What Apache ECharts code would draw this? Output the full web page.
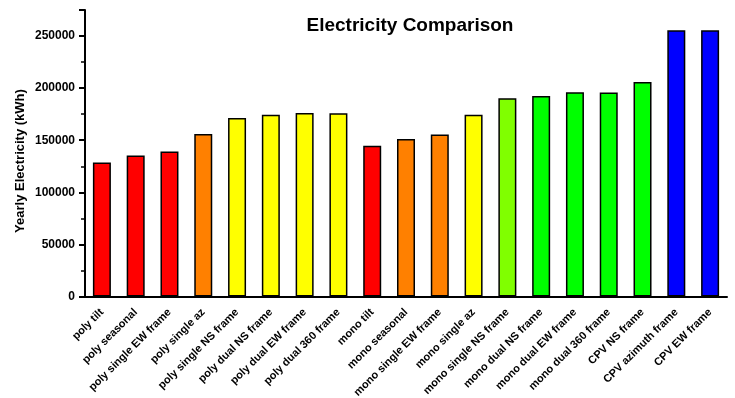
<!DOCTYPE html>
<html>
<head>
<meta charset="utf-8">
<script src="https://cdn.jsdelivr.net/npm/echarts@6/dist/echarts.min.js"></script>
<style>html,body{margin:0;padding:0;background:#fff;}#c{width:735px;height:398px;}</style>
</head>
<body>
<div id="c"></div>
<script>
const categories = ["poly tilt","poly seasonal","poly single EW frame","poly single az","poly single NS frame","poly dual NS frame","poly dual EW frame","poly dual 360 frame","mono tilt","mono seasonal","mono single EW frame","mono single az","mono single NS frame","mono dual NS frame","mono dual EW frame","mono dual 360 frame","CPV NS frame","CPV azimuth frame","CPV EW frame"];
const values = [128600,135400,139200,156000,171300,174500,176100,176000,144700,151100,155600,174500,190200,192500,196000,195700,205900,255600,255600];
const barColors = ["#FF0000","#FF0000","#FF0000","#FF8000","#FFFF00","#FFFF00","#FFFF00","#FFFF00","#FF0000","#FF8000","#FF8000","#FFFF00","#80FF00","#00FF00","#00FF00","#00FF00","#00FF00","#0000FF","#0000FF"];
const yTicks = [0,50000,100000,150000,200000,250000];

const FONT = 'Liberation Sans, Arial, sans-serif';
const chart = echarts.init(document.getElementById('c'));
chart.setOption({
  animation: false,
  backgroundColor: '#fff',
  title: {
    text: 'Electricity Comparison',
    left: 405, top: 11, textAlign: 'center',
    textStyle: {fontFamily: FONT, fontWeight: 'bold', fontSize: 19, color: '#000'}
  },
  graphic: [{
    type: 'text', x: 20, y: 161, rotation: Math.PI/2,
    style: {text: 'Yearly Electricity (kWh)', fontFamily: FONT, fontWeight: 'bold', fontSize: 13,
      fill: '#000', textAlign: 'center', textVerticalAlign: 'middle'}
  }],
  grid: {left: 85, right: 8, top: 10, bottom: 101.5, containLabel: false, outerBoundsMode: 'none'},
  xAxis: [{
    type: 'category', data: categories, position: 'bottom',
    axisLine: {lineStyle: {color: '#000', width: 2}},
    axisTick: {alignWithLabel: true, length: 5, lineStyle: {color: '#000', width: 2}},
    axisLabel: {rotate: 45, interval: 0, margin: 14, fontFamily: FONT, fontWeight: 'bold', fontSize: 11, color: '#000'}
  }, {
    type: 'category', data: categories, position: 'bottom', offset: 0,
    axisLine: {show: false},
    axisTick: {length: 3, lineStyle: {color: '#000', width: 2}},
    axisLabel: {show: false}
  }],
  yAxis: {
    type: 'value', min: 0, max: 275000, interval: 50000,
    axisLine: {show: true, lineStyle: {color: '#000', width: 2}},
    axisTick: {show: true, length: 6, lineStyle: {color: '#000', width: 2}},
    minorTick: {show: true, splitNumber: 2, length: 4, lineStyle: {color: '#000', width: 1.5}},
    splitLine: {show: false},
    axisLabel: {margin: 10, fontFamily: FONT, fontWeight: 'bold', fontSize: 12, color: '#000',
      formatter: v => yTicks.includes(v) ? String(v) : ''}
  },
  series: [{
    type: 'bar', barWidth: 18, xAxisIndex: 0,
    data: values.map((v, i) => ({value: v, itemStyle: {color: barColors[i]}})),
    itemStyle: {borderColor: '#000', borderWidth: 1.5}
  }]
});
</script>
</body>
</html>
